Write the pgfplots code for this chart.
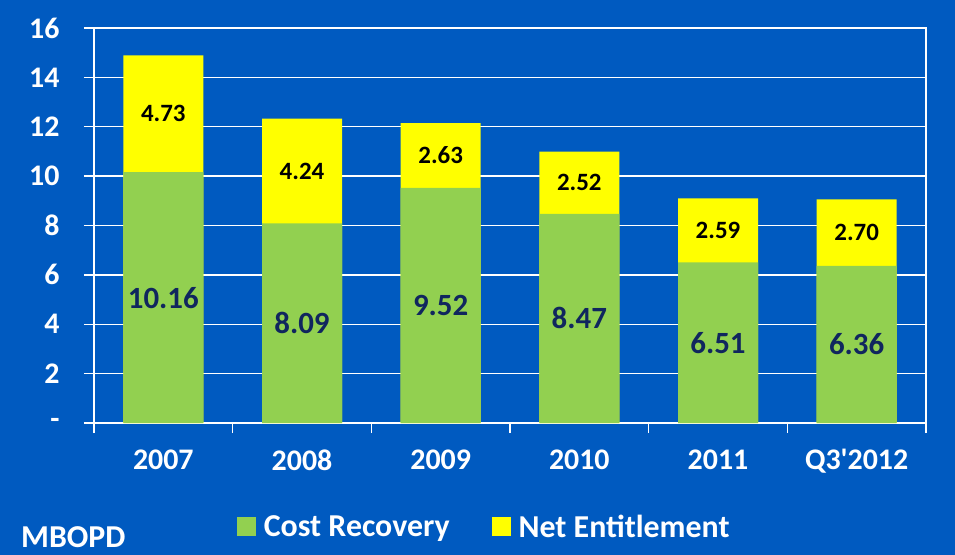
\documentclass[border=0pt]{standalone}
\usepackage{fontspec}
\setmainfont{Carlito}
\usepackage{pgfplots}
\usepackage{pgfplotstable}
\pgfplotsset{compat=1.18}

\definecolor{bg}{RGB}{0,90,192}
\definecolor{grn}{HTML}{92D050}
\definecolor{ylw}{HTML}{FFFF00}
\definecolor{navy}{RGB}{16,38,94}

\pgfplotstableread{
x cr ne
0 10.16 4.73
1 8.09 4.24
2 9.52 2.63
3 8.47 2.52
4 6.51 2.59
5 6.36 2.70
}\mbopd

\begin{document}
\begin{tikzpicture}
\fill[bg] (-94bp,-132bp) rectangle (861bp,423bp);
\begin{axis}[
    scale only axis,
    width=832bp, height=395bp,
    xmin=-0.5, xmax=5.5,
    ymin=0, ymax=16,
    ytick={0,2,...,16},
    yticklabels={-,2,4,6,8,10,12,14,16},
    xtick={0,...,5},
    xticklabels={2007,2008,2009,2010,2011,Q3\textquotesingle 2012},
    xtick pos=bottom, ytick pos=left,
    tick align=outside,
    major tick length=10bp,
    xtick style={draw=none},
    ytick style={draw=white, line width=1.5bp},
    extra x ticks={-0.5,0.5,...,5.5},
    extra x tick labels={},
    extra x tick style={grid=none, xtick style={draw=white, line width=1.5bp}},
    ymajorgrids,
    grid style={white, line width=1.5bp},
    axis line style={white, line width=1.5bp},
    /pgf/number format/assume math mode=true,
    ticklabel style={text=white, font=\fontsize{30}{36}\selectfont\bfseries},
    yticklabel style={xshift=-21bp},
    xticklabel style={yshift=-13bp},
    legend style={at={(axis description cs:0.469,-0.263)}, anchor=center,
        draw=none, fill=none, text=white, legend columns=2,
        font=\fontsize{32}{38}\selectfont\bfseries,
        /tikz/every odd column/.append style={column sep=6bp},
        /tikz/every even column/.append style={column sep=40bp}},
    legend image code/.code={\fill[#1, draw=none] (0bp,-9bp) rectangle (19bp,10bp);},
]
\addlegendimage{fill=grn}
\addlegendentry{Cost Recovery}
\addlegendimage{fill=ylw}
\addlegendentry{Net Entitlement}

\addplot[forget plot, ybar, bar width=80bp, bar shift=0pt, fill=ylw, draw=none]
    table[x=x, y expr=\thisrow{cr}+\thisrow{ne}] {\mbopd};
\addplot[forget plot, ybar, bar width=80bp, bar shift=0pt, fill=grn, draw=none]
    table[x=x, y=cr] {\mbopd};

\addplot[forget plot, only marks, mark size=0pt, point meta=explicit,
    nodes near coords,
    nodes near coords style={anchor=center, text=navy,
        font=\fontsize{31}{36}\selectfont\bfseries,
        /pgf/number format/.cd, fixed, fixed zerofill, precision=2}]
    table[x=x, y expr=\thisrow{cr}/2, meta=cr] {\mbopd};
\addplot[forget plot, only marks, mark size=0pt, point meta=explicit,
    nodes near coords,
    nodes near coords style={anchor=center, text=black,
        font=\fontsize{25}{30}\selectfont\bfseries,
        /pgf/number format/.cd, fixed, fixed zerofill, precision=2}]
    table[x=x, y expr=\thisrow{cr}+\thisrow{ne}/2, meta=ne] {\mbopd};
\end{axis}
\node[anchor=west, text=white, font=\fontsize{32}{38}\selectfont\bfseries, inner sep=0pt]
    at (-73bp,-114bp) {MBOPD};
\end{tikzpicture}
\end{document}
